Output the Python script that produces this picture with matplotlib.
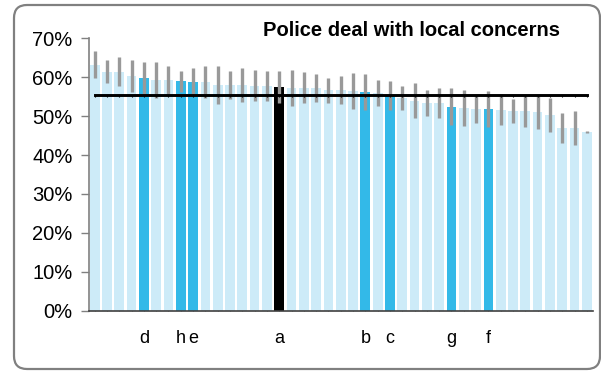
import matplotlib
matplotlib.use('Agg')
import matplotlib.pyplot as plt
from matplotlib.patches import FancyBboxPatch
import numpy as np

plt.rcParams['font.family'] = ['Liberation Sans', 'DejaVu Sans']

# share of respondents (%) per area, sorted
values = [63.2, 61.4, 61.4, 60.3, 59.8, 59.3, 59.3, 59.0, 58.8, 58.8,
          58.0, 58.0, 58.0, 57.8, 57.8, 57.5, 57.3, 57.3, 57.3, 56.7,
          56.7, 56.5, 56.2, 56.0, 55.3, 54.7, 53.9, 53.4, 53.4, 52.4,
          52.1, 51.8, 51.8, 51.6, 51.3, 51.3, 51.1, 50.3, 47.0, 47.0, 45.9]
errors = [3.5, 2.9, 3.7, 4.0, 4.0, 4.7, 3.7, 2.7, 3.5, 4.2,
          5.0, 3.5, 4.3, 4.0, 3.8, 4.2, 4.6, 4.0, 3.6, 3.2,
          3.6, 4.6, 4.6, 3.3, 3.6, 3.1, 4.5, 3.4, 3.8, 4.8,
          4.6, 3.6, 4.6, 4.0, 3.0, 4.0, 4.3, 4.3, 3.8, 4.4, 0.3]
labels = ['', '', '', '', 'd', '', '', 'h', 'e', '',
          '', '', '', '', '', 'a', '', '', '', '',
          '', '', 'b', '', 'c', '', '', '', '', 'g',
          '', '', 'f', '', '', '', '', '', '', '', '']
average = 55.4
title = 'Police deal with local concerns'

light = '#cdebf8'
blue = '#33b9e8'
colors = []
for lab in labels:
    if lab == 'a':
        colors.append('black')
    elif lab != '':
        colors.append(blue)
    else:
        colors.append(light)

x = np.arange(len(values))
vals = np.array(values) / 100
errs = np.array(errors) / 100

fig = plt.figure(figsize=(6.01, 3.73), dpi=100)

# rounded frame around the chart
bg = fig.add_axes([0, 0, 1, 1])
bg.set_xlim(0, 601)
bg.set_ylim(0, 373)
bg.axis('off')
bg.add_patch(FancyBboxPatch((14, 4), 586, 364, boxstyle='round,pad=0,rounding_size=13',
                            fc='white', ec='#808080', lw=1.6))

ax = fig.add_axes([88.5 / 601, 62.3 / 373, 504.5 / 601, 272.4 / 373])
ax.patch.set_alpha(0)
ax.bar(x, vals, width=0.79, color=colors, zorder=2)
ax.errorbar(x, vals, yerr=errs, fmt='none', ecolor='#999999', elinewidth=2.4,
            capsize=0, zorder=3)
ax.plot(x, [average / 100] * len(x), color='black', lw=2.1, zorder=4,
        marker=3, markersize=1.5, markeredgewidth=0.8)

ax.set_xlim(-0.5, len(values) - 0.5)
ax.set_ylim(0, 0.7)
ax.set_yticks(np.arange(0, 0.71, 0.1))
ax.set_yticklabels(['%d%%' % v for v in range(0, 71, 10)], fontsize=14.5)
ax.set_xticks(x)
ax.set_xticklabels(labels, fontsize=13)
ax.tick_params(axis='x', length=2, direction='in', color='#808080', pad=14)
ax.tick_params(axis='y', length=5.5, width=1, color='#808080', pad=6)

for s in ['top', 'right']:
    ax.spines[s].set_visible(False)
ax.spines['left'].set_color('#808080')
ax.spines['left'].set_linewidth(1.2)
ax.spines['bottom'].set_color('#404040')
ax.spines['bottom'].set_linewidth(1.2)

fig.text(412 / 601, 1 - 30.5 / 373, title, fontsize=14.5, fontweight='bold',
         ha='center', va='center')

fig.savefig('out.png', dpi=100)
